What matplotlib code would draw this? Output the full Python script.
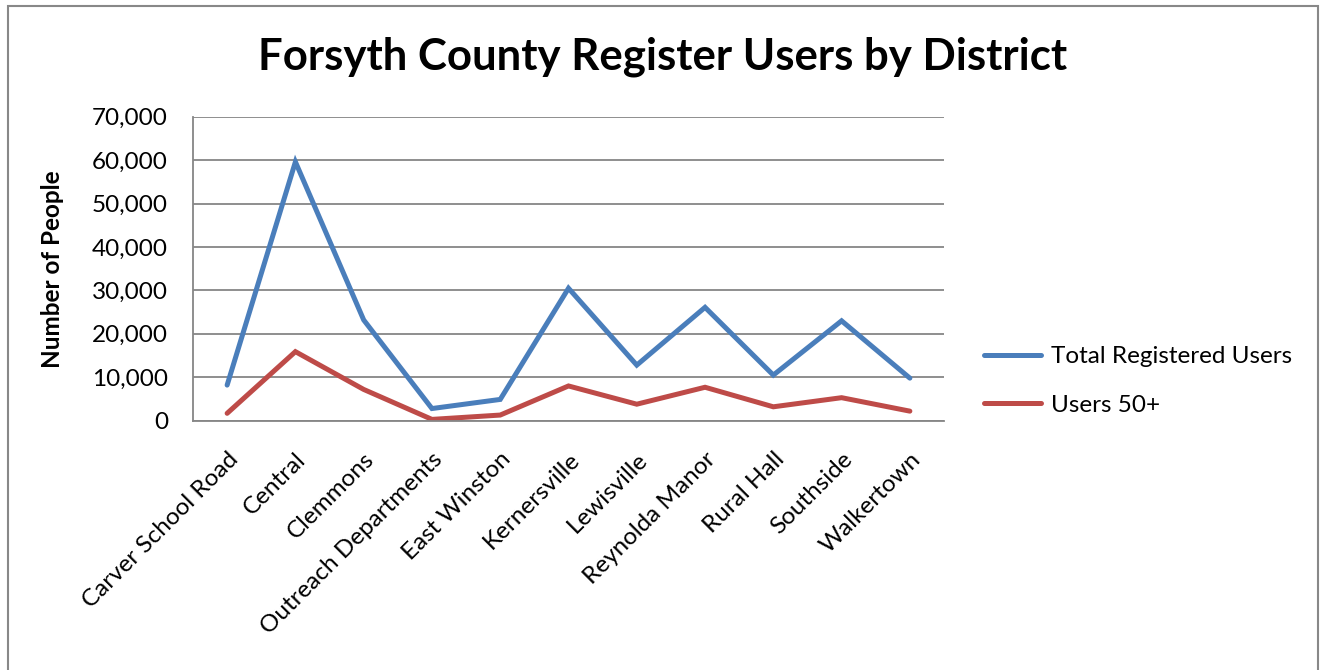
import matplotlib
matplotlib.use("Agg")
import matplotlib.pyplot as plt
from matplotlib.ticker import FuncFormatter, MultipleLocator
from matplotlib.patches import Rectangle

districts = ["Carver School Road", "Central", "Clemmons", "Outreach Departments",
             "East Winston", "Kernersville", "Lewisville", "Reynolda Manor",
             "Rural Hall", "Southside", "Walkertown"]
total_users = [8200, 59600, 23200, 2800, 4900, 30500, 12800, 26100, 10500, 23000, 9800]
users_50plus = [1700, 15900, 7200, 300, 1300, 8000, 3800, 7700, 3200, 5300, 2200]

plt.rcParams['font.family'] = ['Lato', 'DejaVu Sans']

fig = plt.figure(figsize=(13.22, 6.70), dpi=100)
ax = fig.add_axes([193/1322, 1-420.7/670, (944-193)/1322, (420.7-116.7)/670])

x = list(range(len(districts)))
l1, = ax.plot(x, total_users, color="#4A7EBB", lw=3.6, solid_capstyle="round",
              solid_joinstyle="miter", label="Total Registered Users")
l2, = ax.plot(x, users_50plus, color="#BE4B48", lw=3.6, solid_capstyle="round",
              solid_joinstyle="miter", label="Users 50+")

ax.set_xlim(-0.5, len(districts) - 0.5)
ax.set_ylim(0, 70000)
ax.yaxis.set_major_locator(MultipleLocator(10000))
ax.yaxis.set_major_formatter(FuncFormatter(lambda v, p: f"{int(v):,}"))
ax.grid(axis="y", color="#868686", lw=1.3)
ax.set_axisbelow(True)
for s in ["top", "right"]:
    ax.spines[s].set_visible(False)
for s in ["left", "bottom"]:
    ax.spines[s].set_color("#868686")
    ax.spines[s].set_linewidth(1.3)
ax.tick_params(axis="both", length=0, labelsize=17.5, colors="#000000")
ax.tick_params(axis="y", pad=18)
ax.set_xticks(x)
ax.set_xticklabels(districts, rotation=45, ha="right", rotation_mode="anchor")
ax.tick_params(axis="x", pad=20)
ax.set_ylabel("Number of People", fontsize=17.5, fontweight="bold", labelpad=20)

fig.text(663/1322, 1-57/670, "Forsyth County Register Users by District",
         ha="center", va="center", fontsize=31.5, fontweight="bold")

fig.legend(handles=[l1, l2], loc="center left", bbox_to_anchor=(962/1322, 1-381/670),
           frameon=False, fontsize=17.5, handlelength=2.35, handletextpad=0.4,
           labelspacing=1.15)

fig.patches.append(Rectangle((8/1322, -0.1), (1318-8)/1322, 1.1 - 5.5/670,
                             transform=fig.transFigure, fill=False,
                             edgecolor="#888888", lw=1.5))

fig.savefig("out.png", dpi=100)
